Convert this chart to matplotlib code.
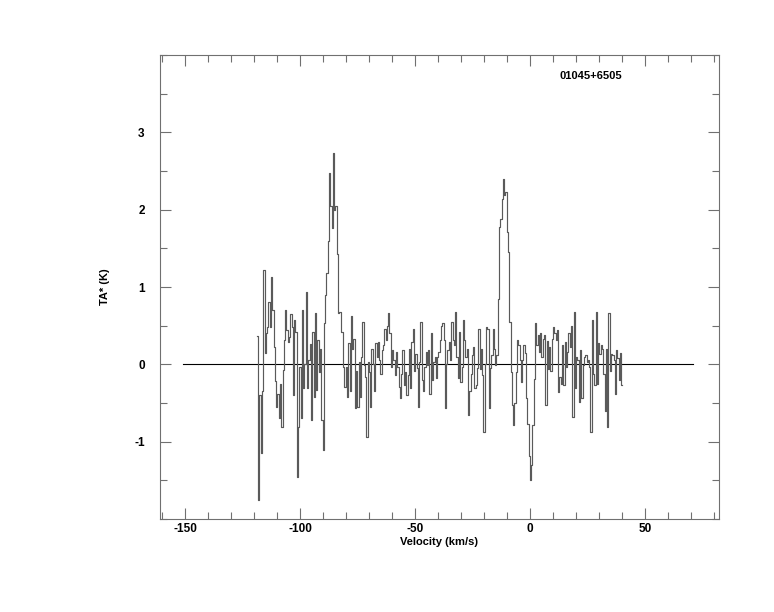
import numpy as np
import matplotlib
matplotlib.use("Agg")
import matplotlib.pyplot as plt
from matplotlib.ticker import MultipleLocator, FixedLocator

# ---- data ----
v_start = -118.5      # km/s, first channel
v_step = 0.56         # km/s, channel width

seg_a = [0.37, -1.76, -0.4, -1.15, -0.35, 1.22, 0.15, 0.4, 0.48, 0.8,
         0.48, 1.13, 0.7, 0.22, -0.22, -0.55, -0.38, -0.7, -0.25, -0.81,
         -0.07, 0.31, 0.7, 0.44, 0.29, 0.35, 0.65, 0.48, -0.4, 0.57,
         0.42, -1.46, -0.81, -0.03, -0.7, 0.7, -0.3, 0.0, 0.93, -0.3,
         0.05, 0.26, -0.72, 0.42, -0.42, 0.67, -0.33, 0.31, -0.1, 0.2, -0.72,
         -1.11, 0.54, 0.9, 1.18, 1.6]
peak_1 = [2.48, 2.05, 1.76, 2.73, 2.0, 2.05, 1.43]
seg_b = [0.66, 0.68, 0.42, 0.42, -0.03, -0.29, -0.03, -0.42, 0.27, -0.34,
         0.63, 0.2, 0.33, -0.57, -0.08, -0.55, 0.03, -0.42, 0.1, 0.55,
         -0.01, -0.16, -0.94, 0.03, -0.1, -0.55, 0.2, 0.0, -0.34, 0.27,
         0.1, 0.29, 0.05, -0.12, 0.18, 0.25, 0.46, 0.31, 0.5, 0.66,
         0.4, -0.03, 0.18, 0.05, -0.14, 0.16, -0.03, -0.29, -0.44, -0.12]
seg_c = [0.18, -0.27, -0.1, -0.4, -0.14, 0.2, -0.31, 0.29, 0.46, -0.08,
         0.14, -0.05, -0.55, 0.03, 0.55, -0.2, -0.34, -0.03, 0.16, -0.01,
         0.18, -0.38, 0.4, -0.2, 0.03, 0.1, -0.18, 0.09, 0.16, 0.31,
         0.5, 0.53, 0.31, -0.57, 0.0, 0.18, 0.29, 0.05, 0.55, 0.31,
         0.25, 0.68, 0.09, -0.18, 0.42, -0.23, -0.03, 0.57, 0.31, 0.09,
         0.2, -0.66, -0.34, -0.12, 0.12, 0.22, -0.31]
seg_d = [-0.27, -0.05, 0.46, -0.06, 0.2, -0.14, -0.88, 0.0, 0.48, 0.46,
         -0.57, -0.05, 0.12, 0.46, 0.2, -0.01, 0.12,
         0.85, 1.78, 1.88, 2.14, 2.4, 2.19, 2.23, 1.71, 1.45,
         0.55, -0.1, -0.53, -0.79, -0.5, -0.1, 0.31, 0.25, 0.05, -0.23,
         0.05, 0.25, 0.15, -0.44, -0.77, -1.18, -1.5, -1.3, -0.79, -0.19,
         0.53, 0.25, 0.38, 0.16, 0.4, 0.1, 0.33, 0.38, -0.53, 0.3, -0.06]
seg_e = [0.22, -0.08, 0.33, 0.48, 0.4, 0.31, 0.44, -0.36, -0.16, -0.25,
         0.25, -0.27, 0.29, -0.03, 0.16, 0.4, 0.22, 0.5, -0.68, 0.68,
         -0.31, 0.09, 0.05, -0.49, 0.18, -0.44, -0.01, 0.09, 0.12, 0.03,
         0.05, -0.03, -0.88, 0.57, -0.12, -0.27, 0.68, -0.25, 0.27, 0.14,
         0.25, 0.2, -0.12, -0.6, 0.2, -0.81, 0.66, -0.08, 0.14, 0.12,
         0.05, -0.38, 0.18, 0.08, -0.2, 0.15, -0.27]

ta = np.array(seg_a + peak_1 + seg_b + seg_c + seg_d + seg_e)
velocity = v_start + v_step * np.arange(len(ta))

x_major = [-150, -100, -50, 0, 50]
y_major = [-1, 0, 1, 2, 3]
baseline_range = [-151, 71]
source_name = "01045+6505"

# ---- plot ----
plt.rcParams['font.family'] = ['Liberation Sans', 'DejaVu Sans']
plt.rcParams['axes.unicode_minus'] = False
fig = plt.figure(figsize=(7.74, 6.12), dpi=100)
ax = fig.add_axes([160/774, 93/612, 559/774, 464/612])

frame_col = '#707070'
ax.plot(baseline_range, [0, 0], color='black', lw=0.8)
ax.step(velocity, ta, where='mid', color='#5a5a5a', lw=0.85)

ax.set_xlim(-160.9, 82.2)
ax.set_ylim(-2.0, 4.0)
ax.xaxis.set_major_locator(FixedLocator(x_major))
ax.xaxis.set_minor_locator(MultipleLocator(10))
ax.yaxis.set_major_locator(FixedLocator(y_major))
ax.yaxis.set_minor_locator(MultipleLocator(0.5))

ax.tick_params(which='both', direction='in', top=True, right=True,
               color=frame_col, width=0.8)
ax.tick_params(which='major', length=8, labelsize=8.5, pad=3)
ax.tick_params(which='minor', length=5)
ax.tick_params(axis='y', which='major', pad=11)
for lab in ax.get_xticklabels() + ax.get_yticklabels():
    lab.set_fontweight('bold')
for sp in ax.spines.values():
    sp.set_color(frame_col)
    sp.set_linewidth(0.8)

ax.set_xlabel("Velocity (km/s)", fontsize=8, fontweight='bold', labelpad=1)
ax.set_ylabel("TA* (K)", fontsize=8, fontweight='bold', labelpad=17)
ax.text(0.77, 0.955, source_name, transform=ax.transAxes, fontsize=8,
        fontweight='bold', ha='center', va='center')

fig.savefig("out.png", dpi=100)
